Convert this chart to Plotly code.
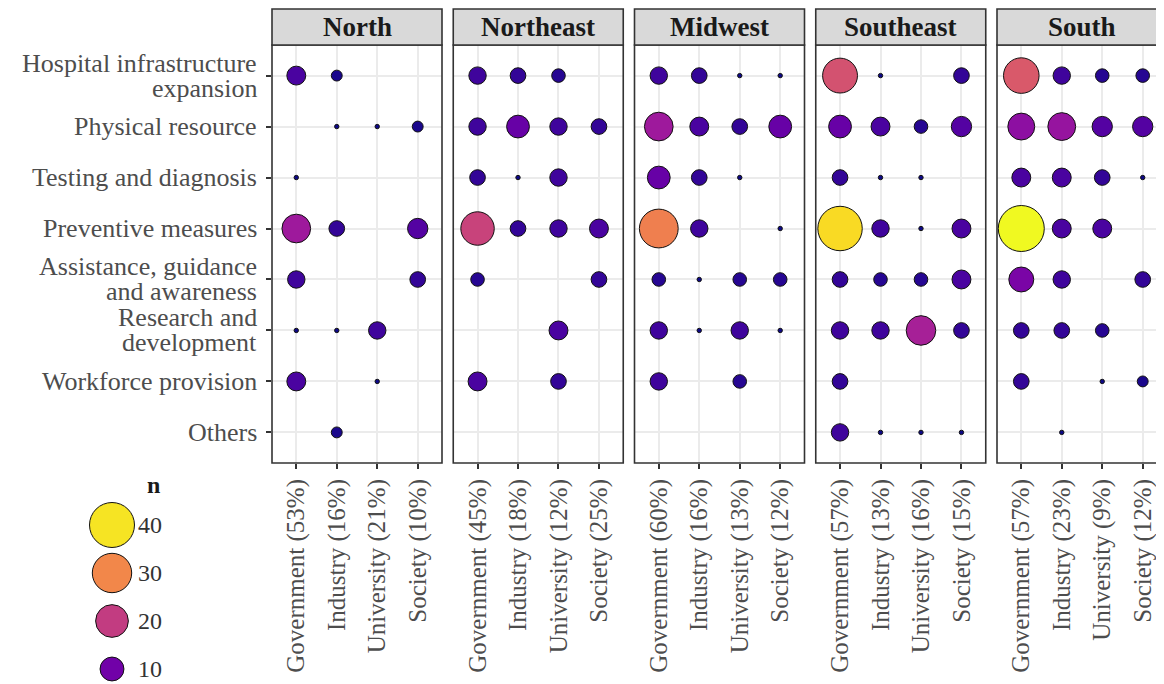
import numpy as np
import plotly.graph_objects as go

# ---------------- data ----------------
regions = ["North", "Northeast", "Midwest", "Southeast", "South"]
sectors = ["Government", "Industry", "University", "Society"]
actions = [
    "Hospital infrastructure<br>expansion",
    "Physical resource",
    "Testing and diagnosis",
    "Preventive measures",
    "Assistance, guidance<br>and awareness",
    "Research and<br>development",
    "Workforce provision",
    "Others",
]

pct_north = [53, 16, 21, 10]
pct_northeast = [45, 18, 12, 25]
pct_midwest = [60, 16, 13, 12]
pct_southeast = [57, 13, 16, 15]
pct_south = [57, 23, 9, 12]

# rows = actions, columns = sectors (Government, Industry, University, Society); 0 = no point
n_north = [
    [6, 2, 0, 0],
    [0, 1, 1, 2],
    [1, 0, 0, 0],
    [15, 4, 0, 7],
    [5, 0, 0, 4],
    [1, 1, 5, 0],
    [6, 0, 1, 0],
    [0, 2, 0, 0],
]
n_northeast = [
    [5, 4, 3, 0],
    [5, 9, 5, 4],
    [4, 1, 5, 0],
    [21, 4, 5, 6],
    [3, 0, 0, 4],
    [0, 0, 6, 0],
    [6, 0, 4, 0],
    [0, 0, 0, 0],
]
n_midwest = [
    [5, 4, 1, 1],
    [15, 6, 4, 9],
    [9, 4, 1, 0],
    [29, 5, 0, 1],
    [3, 1, 3, 3],
    [5, 1, 5, 1],
    [5, 0, 3, 0],
    [0, 0, 0, 0],
]
n_southeast = [
    [23, 1, 0, 4],
    [9, 6, 3, 7],
    [4, 1, 1, 0],
    [39, 5, 1, 6],
    [4, 3, 3, 6],
    [5, 5, 16, 4],
    [4, 0, 0, 0],
    [5, 1, 1, 1],
]
n_south = [
    [24, 5, 3, 3],
    [13, 14, 7, 7],
    [6, 6, 4, 1],
    [42, 6, 6, 0],
    [11, 5, 0, 4],
    [4, 4, 3, 0],
    [4, 0, 1, 2],
    [0, 1, 0, 0],
]
legend_breaks = [40, 30, 20, 10]

# ---------------- scales / styles ----------------
N_MIN, N_MAX = 1, 42
FONT = "Liberation Serif, Times New Roman, serif"
OFF = 8                      # page body margin
W, H = 1164 - OFF, 684 - OFF


def size_px(n):
    n = np.asarray(n, dtype=float)
    return 4.4 + 41.6 * np.sqrt((n - N_MIN) / (N_MAX - N_MIN))


def px_x(v):
    return (v - OFF) / W


def px_y(v):
    return 1 - (v - OFF) / H


all_n = [n_north, n_northeast, n_midwest, n_southeast, n_south]
all_pct = [pct_north, pct_northeast, pct_midwest, pct_southeast, pct_south]

panel_left, panel_w, gap = 272, 170, 11.25
top_px, bottom_px = 45, 463
strip_h = 36
ydom = [px_y(bottom_px), px_y(top_px)]
plot_h = bottom_px - top_px
line_h = 25

fig = go.Figure()
shapes = []
annotations = []
layout = {}

for i, (reg, nmat, pct) in enumerate(zip(regions, all_n, all_pct)):
    xs, ys, ns = [], [], []
    for r, row in enumerate(nmat):
        for c, v in enumerate(row):
            if v > 0:
                xs.append(sectors[c])
                ys.append(actions[r])
                ns.append(v)
    xname = "x" if i == 0 else f"x{i+1}"
    yname = "y" if i == 0 else f"y{i+1}"
    fig.add_trace(go.Scatter(
        x=xs, y=ys, mode="markers", xaxis=xname, yaxis=yname,
        marker=dict(size=size_px(ns), color=ns, colorscale="Plasma",
                    cmin=N_MIN, cmax=N_MAX, line=dict(color="#111111", width=1),
                    opacity=1),
        showlegend=False, hoverinfo="skip",
    ))
    x0 = panel_left + i * (panel_w + gap)
    x1 = x0 + panel_w
    xr_max = 3.6
    right_edge = OFF + W
    if x1 > right_edge:
        xr_max = -0.6 + 4.2 * (right_edge - x0) / panel_w
        x1 = right_edge
    frac = (x1 - x0) / panel_w
    xkey = "xaxis" if i == 0 else f"xaxis{i+1}"
    ykey = "yaxis" if i == 0 else f"yaxis{i+1}"
    layout[xkey] = dict(
        domain=[px_x(x0), min(px_x(x1), 1.0)], anchor=yname, type="category",
        categoryorder="array", categoryarray=sectors, range=[-0.6, xr_max],
        tickvals=sectors, ticktext=[f"{s} ({p}%)" for s, p in zip(sectors, pct)],
        tickangle=-90, ticks="outside", ticklen=5, tickwidth=1.6, tickcolor="#333333",
        tickfont=dict(family=FONT, size=25, color="#4d4d4d"),
        showgrid=True, gridcolor="#ebebeb", gridwidth=1.8,
        zeroline=False, showline=False, automargin=False, fixedrange=True,
    )
    layout[ykey] = dict(
        domain=ydom, anchor=xname, type="category",
        categoryorder="array", categoryarray=actions, range=[7.6, -0.6],
        showgrid=True, gridcolor="#ebebeb", gridwidth=1.8,
        zeroline=False, showline=False, automargin=False, fixedrange=True,
        ticks="outside" if i == 0 else "", ticklen=5, tickwidth=1.6, tickcolor="#333333",
        showticklabels=False,
    )
    # panel border
    shapes.append(dict(type="rect", xref=f"{xname} domain", yref=f"{yname} domain",
                       x0=0, x1=1 / frac, y0=0, y1=1, line=dict(color="#333333", width=1.6),
                       fillcolor="rgba(0,0,0,0)", layer="above"))
    # strip
    shapes.append(dict(type="rect", xref=f"{xname} domain", yref=f"{yname} domain",
                       x0=0, x1=1 / frac, y0=1, y1=1 + strip_h / plot_h,
                       line=dict(color="#333333", width=1.6), fillcolor="#d9d9d9",
                       layer="above"))
    annotations.append(dict(text=f"<b>{reg}</b>", xref=f"{xname} domain",
                            yref=f"{yname} domain", x=0.5 / frac,
                            y=1 + strip_h / 2 / plot_h, showarrow=False,
                            xanchor="center", yanchor="middle",
                            font=dict(family=FONT, size=27, color="#1a1a1a")))

# y category labels (drawn line by line for the tighter ggplot line spacing)
for r, lab in enumerate(actions):
    lines = lab.split("<br>")
    for j, ln in enumerate(lines):
        annotations.append(dict(
            text=ln, xref="paper", yref="y", x=px_x(259), y=r,
            xanchor="right", yanchor="middle", showarrow=False,
            yshift=((len(lines) - 1) / 2 - j) * line_h,
            font=dict(family=FONT, size=26, color="#4d4d4d")))

# ---------------- size/colour legend ----------------
leg_labels = [str(b) for b in legend_breaks]
fig.add_trace(go.Scatter(
    x=[0.5] * len(legend_breaks), y=leg_labels, mode="markers",
    xaxis="x6", yaxis="y6",
    marker=dict(size=size_px(legend_breaks), color=legend_breaks, colorscale="Plasma",
                cmin=N_MIN, cmax=N_MAX, line=dict(color="#111111", width=1),
                opacity=1),
    showlegend=False, hoverinfo="skip",
))
# legend keys centred at ~112px, rows at ~525..669px of the reference page
layout["xaxis6"] = dict(domain=[0, (224 - 2 * OFF) / W],
                        range=[0, 1], visible=False, anchor="y6", fixedrange=True)
leg_top, leg_bot = 490, 684
row_step = (669 - 525) / 3
layout["yaxis6"] = dict(domain=[0, (leg_bot - leg_top) / H], type="category",
                        categoryorder="array", categoryarray=leg_labels,
                        range=[3 + (leg_bot - 669) / row_step, -(525 - leg_top) / row_step],
                        anchor="free", position=px_x(137), side="right",
                        showgrid=False, zeroline=False, showline=False, ticks="",
                        tickfont=dict(family=FONT, size=24, color="#333333"),
                        automargin=False, fixedrange=True)
annotations.append(dict(text="<b>n</b>", xref="paper", yref="paper",
                        x=px_x(153), y=px_y(485), showarrow=False,
                        xanchor="center", yanchor="middle",
                        font=dict(family=FONT, size=24, color="#1a1a1a")))

fig.update_layout(
    width=W, height=H, autosize=False,
    margin=dict(l=0, r=0, t=0, b=0),
    paper_bgcolor="white", plot_bgcolor="white",
    shapes=shapes, annotations=annotations,
    showlegend=False,
    **layout,
)

fig.write_html("out.html")
